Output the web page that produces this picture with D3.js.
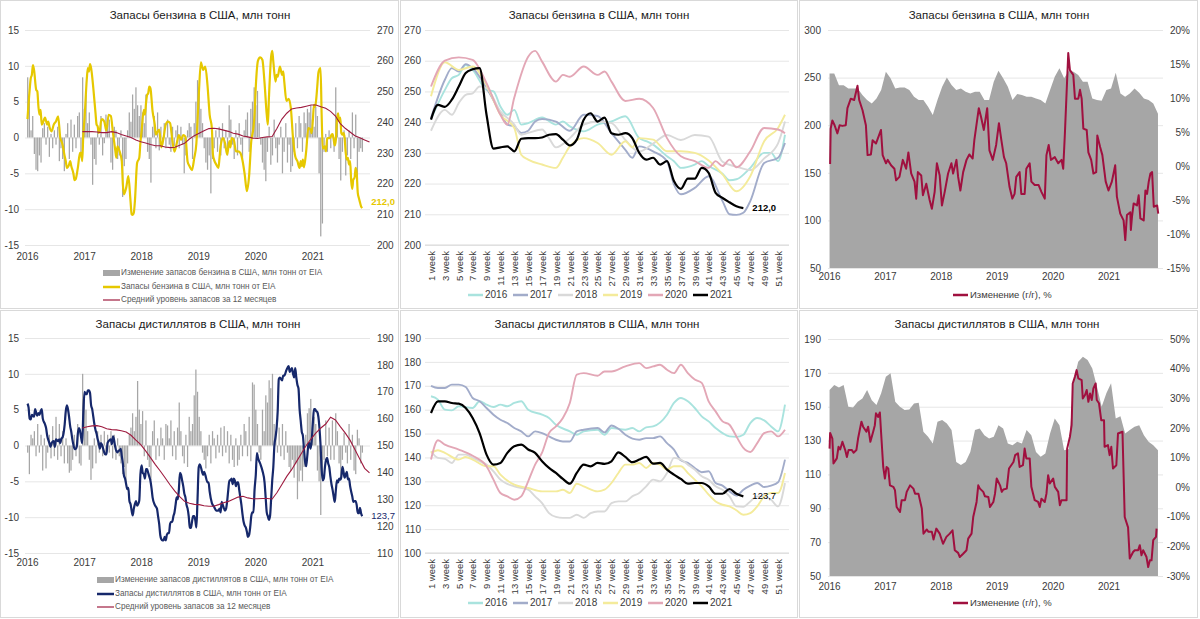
<!DOCTYPE html>
<html>
<head>
<meta charset="utf-8">
<script src="https://cdn.jsdelivr.net/npm/d3@7"></script>
<style>
  body { margin: 0; background: #fff; }
  svg { font-family: "Liberation Sans", Arial, sans-serif; }
  .axis path, .axis line { display: none; }
  .axis text { fill: #3a3a3a; font-size: 10px; font-family: "Liberation Sans", Arial, sans-serif; }
  .grid path { display: none; }
  .grid line { stroke: #e6e6e6; }
</style>
</head>
<body>
<svg id="chart" width="1200" height="619"></svg>
<script>
// ── Data ──────────────────────────────────────────────────────────────────────
const YEARS = [2016, 2017, 2018, 2019, 2020, 2021];
const YEAR_COLORS = ['#a9e3de', '#a2acca', '#d9d9d9', '#f4eb9b', '#e3a7b6', '#000000'];
const WEEK_TICKS = d3.range(1, 52, 2);

// gasoline stocks by week, [week, mln t]
const gas2016 = [[1,241],[3,250.5],[4,254.3],[5,255.4],[6,258.6],[7,257],[9,250.5],[10,250],[11,245.1],[12,242.4],[13,244],[14,239.2],[15,239.7],[17,241.5],[19,239.2],[20,240.2],[21,238.6],[23,237],[25,239.2],[27,240.2],[29,241.9],[31,234.8],[32,233.8],[33,232.7],[35,228.9],[36,227.3],[37,225.1],[39,226.2],[40,227.3],[41,225.7],[43,223.2],[44,221.1],[45,221.4],[47,225.1],[49,230],[50,230],[51,227.3],[52,235.9]];
const gas2017 = [[1,241.3],[3,253.8],[4,257.6],[5,256.5],[6,258.9],[7,257.6],[9,251.1],[11,243],[12,239.2],[13,238.6],[14,236.5],[15,237.2],[16,240.2],[17,241],[19,240.2],[21,237.2],[23,242.4],[25,242],[27,236.4],[29,231],[30,228.4],[31,232.1],[33,230.5],[35,227.3],[36,219.7],[37,216.5],[39,218.6],[41,222.4],[43,214.3],[44,210],[45,209.8],[46,210.5],[47,214.3],[49,226.7],[51,228.4],[52,233.2]];
const gas2018 = [[1,237.2],[3,244],[4,242.4],[5,246.2],[6,248.9],[7,249.4],[8,251.6],[9,251.1],[11,243.5],[13,239.2],[14,235.9],[15,236.5],[17,237.6],[18,234.8],[19,231.8],[21,234.8],[23,239.2],[25,240.2],[27,239.7],[29,234.2],[31,230.4],[33,233],[35,235.8],[37,234.2],[39,235.8],[41,235.3],[43,227.1],[45,225.5],[47,224.4],[49,228.2],[51,233.1],[52,240.2]];
const gas2019 = [[1,248.4],[3,259.5],[5,257],[7,258.1],[9,252.1],[11,242.4],[13,238.1],[14,229.4],[15,227.8],[17,226.2],[19,225.1],[20,228.4],[21,232.1],[23,234.8],[25,233.2],[27,229.4],[29,233.8],[30,231.8],[31,234.8],[33,234.3],[35,230.5],[37,230.5],[39,230],[41,227.5],[43,223],[45,217.5],[47,222.4],[49,233.8],[51,238.1],[52,242.4]];
const gas2020 = [[1,251.6],[3,260],[5,261.1],[7,260.3],[9,252.7],[11,242.4],[12,239.2],[13,248],[15,261.3],[16,263.2],[17,259.7],[19,253.2],[20,255.4],[21,254.8],[23,258.1],[25,255.4],[26,256.5],[27,253.2],[29,246.9],[31,247.6],[33,244.6],[35,234.8],[37,228.9],[39,227.3],[41,225.1],[42,227.3],[43,225.7],[44,227.8],[45,225.3],[47,230.5],[49,238.1],[51,237.6],[52,236.4]];
const gas2021w = [240.8,245.6,245,247.3,251.6,256,257.2,257.6,242.4,231.4,231.8,232.1,230.5,234.6,234.8,234.8,235,235.9,236.1,234.3,232.4,234.3,240.8,242.9,240.2,241.5,236.4,235.9,236.4,234.8,230,227.8,228.4,226.2,227.3,220.8,218.3,221.6,221.6,225.1,223.5,217,215.3,213.9,212.6,212.0];

// distillate stocks by week, [week, mln t]
const dist2016 = [[1,165.6],[2,164.2],[3,160],[4,159.7],[5,161.4],[7,160.7],[8,163.5],[9,162.1],[10,161.1],[11,162.1],[12,161.4],[13,162.8],[14,163.5],[15,160],[17,157.9],[18,156.5],[19,153.7],[21,150.9],[22,149.5],[23,150.9],[25,151.6],[26,149.5],[27,152.3],[29,151.6],[30,152.3],[31,150.9],[32,152.6],[33,153],[35,157.9],[36,162.8],[37,164.9],[38,163.5],[39,160.7],[40,157.2],[41,155.1],[42,152.3],[43,150.2],[44,148.8],[45,148.6],[46,149.5],[47,154.4],[48,156.5],[49,155.5],[50,153],[51,150.9],[52,162.1]];
const dist2017 = [[1,170],[2,169.1],[3,169.1],[4,170.5],[5,170.5],[6,169.5],[7,164.9],[8,163.5],[9,160.7],[10,157.9],[11,155.8],[12,154.4],[13,152.3],[14,150.9],[15,148.8],[16,150.9],[17,150.2],[18,148.8],[19,147.4],[20,146.7],[21,146.7],[22,150.9],[23,151.6],[25,152.3],[26,150.5],[27,153.4],[28,152],[29,149.5],[31,147.4],[32,148.1],[33,148.1],[34,148.8],[35,146],[36,143.3],[37,138.8],[38,137.7],[39,135.6],[40,133.8],[41,134.2],[42,129.3],[43,128.2],[44,125.8],[45,124],[46,126.5],[47,128.2],[48,129.3],[49,127.6],[50,128.2],[51,129.6],[52,139.1]];
const dist2018 = [[1,142.6],[2,139.8],[3,139.4],[4,137.7],[5,141.2],[6,141.2],[7,139.8],[8,138.4],[9,137],[10,134.2],[11,130.7],[13,127.9],[15,126.5],[16,123.7],[17,120.9],[18,116.7],[19,115.1],[20,114.7],[21,114.7],[22,116],[23,114.7],[24,116.7],[25,117.4],[26,117.4],[27,120.9],[28,121.6],[29,121.6],[30,123.7],[31,125.1],[32,127.9],[33,130.7],[34,130],[35,133.5],[36,139.8],[37,139.1],[38,137],[39,134.9],[40,132.1],[41,130.7],[42,127.9],[43,126.5],[44,123.7],[45,119.5],[46,119.3],[47,121.6],[48,123.7],[49,123.7],[50,122.3],[51,119.5],[52,129.3]];
const dist2019 = [[1,141.9],[2,143],[3,141.9],[5,139.1],[6,140.2],[7,139.1],[9,136.3],[10,136.3],[11,132.8],[13,128.6],[15,127.2],[17,125.8],[19,125.8],[20,126.5],[21,125.1],[22,129],[23,127.9],[25,125.8],[26,126.5],[27,129.3],[28,133.5],[29,137],[30,137],[31,137.7],[32,135.6],[33,137.7],[34,137],[35,134.9],[36,136.3],[37,136.3],[38,133.5],[39,130.7],[40,127.9],[41,124.4],[42,121.6],[43,120.2],[44,119.5],[45,117.9],[46,116],[47,116.7],[48,119.5],[49,123.7],[50,125.1],[51,125.1],[52,133.5]];
const dist2020 = [[1,139.1],[2,147.2],[3,145.4],[5,143.3],[7,140.7],[9,136.3],[10,130.7],[11,125.1],[12,123.7],[13,122.3],[14,123.7],[15,130],[16,137],[17,142],[18,150.2],[19,153],[20,156.5],[21,162.8],[22,174.7],[23,175.3],[25,174.2],[26,176],[27,176],[29,178.1],[31,179.5],[32,177.4],[33,178.1],[34,178.8],[35,176.7],[36,175.3],[37,178.8],[38,175.3],[39,172.6],[40,171.2],[41,163.5],[42,159.3],[43,155.1],[44,153.7],[45,148.8],[46,144],[47,142.3],[48,146],[49,150.2],[50,150.9],[51,148.8],[52,151.6]];
const dist2021w = [158.6,163.5,163.5,162.8,162.5,160.7,156.5,150.2,141.2,137,137.7,141.9,144.7,145.4,143.3,141.9,138.4,135.6,133.5,131,129,133.5,137,136.3,137.7,137.3,138.4,142.1,140.2,138,139.1,140.2,137.4,137.7,134.9,132.8,131,129,129.3,129.3,127.9,124.8,124.8,126.8,124.8,123.7];

// weekly stock change (left axis), Jan 2016 .. Nov 2021
const gasBars = [
  8.4,6,1,3,-2.3,-4.5,-4.7,-2.5,-3.5,1.3,2,-1,1.5,-2.7,0.5,-1.5,1,-1,1.5,-3.3,-1.5,-3,-4.7,0.5,2,-3,2.5,-2,1.8,-1.5,3,3.5,-2.8,
  8.4,4,6,2,3.5,-1,-6.6,-3,-3.8,1.5,-1,3,-2.5,-0.8,3.2,2,2.5,-3.5,-4.5,1.5,1,-3,-2.5,1,-8.3,-4,-3,1,3.5,2.2,6,4,7,4.5,
  3,4.5,3.5,2,6,-2,-3,-6.3,1.5,3,-1.5,3.5,-1.8,1.5,-1,2,-1.5,2.5,-1,-2,1.5,-1.2,1,1.7,-1.5,1.5,-1,-5,-2.5,1,2,1.5,-3,2,
  5,8,7,4,2,-1.5,-3.5,-4.5,-2.5,-7.8,-3,-1.5,1,-2,1.5,-2.5,2,-1.5,1,-2.5,4.5,2.5,-1,-3,1,-2.5,2,-1,-3,1,2.5,3.5,-2,4,
  5,7,4.5,6.5,2,-1,-3.5,-4.5,-6.1,-2,1.5,-3.8,-2.5,2.5,-1.5,-3.5,-1,1.5,-5,-2,2,-3.5,-1,-4.8,-4,-2,2,-1.5,3,2,-2,3.5,2,4,
  3.5,4.5,2.5,1.5,4.3,3,-5,-13.8,-12,-2,0.5,-2,1,-1.5,0.5,-2,7,2,-3,-6,-2,1,-5.3,-2.5,1,-3,3.5,-1.5,3.2,-5.8,-2,-1.5,-2
];
const distBars = [
  -1,-4,1.5,1,2,-1.5,3,-1,1.5,-3.5,1,-3.2,-1,1.5,-1.8,2.7,-1.5,4,-2,3,-1.5,2,-2.5,1,-2.5,-3.8,-3.5,-2,1.5,-1.5,3,-2.5,-2.8,
  10,6.5,5,2,-2,-4.8,-3.2,1,-2.5,2,-1,1.5,-1.5,2,-1,1.5,-1,2,-1.8,1.5,-2,1,-1.5,-2.5,-4,-3,-5.2,-2.5,1.5,2.5,4.5,2,4,9,
  5,3,4.8,-1.5,3.5,-2,-3,-4.8,2,3.5,-2,1,-1.5,2.5,1,-2,3,2.8,1,3.5,-1.5,2,-2,2.5,6,2,-1.5,-2.5,1.5,-3,4,2,3,7,
  10.6,7.5,4,2,-1,-2,-3.2,-1.5,1.5,-2.5,2,1,-1.8,1.5,-1,2.5,-1.5,2.7,-1,2,-2.5,1.5,-2,-3,1,-2.8,-2,1.5,-1.5,3,2,-1.5,4,-2.2,
  8.8,8.5,5,3,-1,-2,5,2,7,6,9.1,8,10,3,2,-1,2.5,-1.5,3,-2,2,-1,-3,-3.5,-2,-4.5,-2.5,-7.5,-5,-3.5,-5,-3,1.5,4.5,
  5.2,6.5,2.5,4,3,-3.5,-5,-9.7,-4,-2,3.5,-1.5,2.5,-2,3.5,-2,4.5,2,-2.5,-4.5,-2,1.8,-1,-2.5,3,-2,1.5,-3.5,-4,2.2,1,-2.5,-1
];

// 12-month average stock level (right axis), monthly Jan 2017 .. Dec 2021
const gasAvg = [
  236.9,236.9,236.9,236.8,236.6,236.6,236.9,236.6,236,235.5,235,234.2,
  233.6,233.2,232.7,232.3,232.3,231.9,231.7,231.8,232.5,233.1,234.5,235.6,
  236.4,237.2,237.9,238,237.8,237.4,237,236.4,236.1,235.5,235.2,234.8,
  234.7,235,235.2,235.3,238,241,242.9,244.3,244.6,244.8,245.2,245.6,
  245.6,245,244.5,243.5,242,239.5,238,236.8,235.6,234.9,234.2,233.5
];
const distAvg = [
  156.5,157,157.3,157.4,157,156.2,155.9,155.8,155.5,155,153.8,152,
  150.3,148,145.5,142.9,140.5,138,135.4,133,131,129.2,128.5,128.1,
  128,127.6,127.4,127.4,128,128.7,129.2,130,130.8,131.1,130.5,130.2,
  130.2,130.3,130.3,130.1,132.5,135.5,138.5,141,144,147,150,152.5,
  154.7,156.5,158,160.5,159.5,157,154.7,152,148.5,145,141.5,139.8
];

// stock level for the area charts, monthly Jan 2016 .. Nov 2021
const gasArea = [
  254.4,254.4,242,242,238.6,238.6,238.6,231.6,226.4,222.9,228,236.9,
  256.2,249.2,238.6,239.7,239.7,236.9,229.9,226.4,226.4,219.4,210.6,226.4,
  240.4,250.2,242.1,236.9,238.6,235.1,233.4,235.1,235.1,226.4,226.4,245.7,
  257.2,249.2,240.4,226.4,232.7,231.6,229.9,229.9,228.1,226.4,222.9,236.9,
  250.9,259.7,249.2,257.2,256.2,252.7,245.7,245.7,228.1,226.4,225.7,236.9,
  238.6,255.1,233.4,229.9,233.4,238.6,234,228.1,226.4,222.9,212
];
const distArea = [
  159.8,162.8,161.4,162.8,150,149.6,152.9,154.9,159.8,153.8,151,157.9,
  167.7,169.7,152.9,150,148,148.4,151.9,152.3,135.2,132.2,128.3,141.1,
  142.1,140.1,136.2,117.4,115.5,117.4,123.3,136.2,137.2,133.2,131.2,132.2,
  139.1,137.2,128.3,127.3,129.3,128.3,136.2,133.2,123.3,120.4,122.4,134.2,
  143.1,139.1,124.3,125,165,176.6,179.5,177.6,172.6,161.8,150,157.9,
  163.8,143.1,144.4,134.2,136.2,138.1,139.1,133.2,129.3,127.3,124.3
];

// year-on-year change, % : [years since Jan 2016, %]
const gasYoy = [[0.02,0.3],[0.03,5.5],[0.06,6.7],[0.10,6],[0.15,4.8],[0.19,6],[0.24,5.9],[0.30,6],[0.33,8.5],[0.39,9.9],[0.45,9.7],[0.51,11.8],[0.54,9.7],[0.60,8.2],[0.66,6],[0.69,1.6],[0.75,1.7],[0.78,3.8],[0.84,3.3],[0.93,5.3],[0.96,1.6],[1.02,0.4],[1.05,0.9],[1.11,0.1],[1.17,-0.4],[1.20,-2.1],[1.26,-1.6],[1.32,0.9],[1.38,-0.4],[1.42,2],[1.47,-1.1],[1.53,-2.3],[1.56,-4.8],[1.59,-0.9],[1.65,-1.4],[1.68,-4.3],[1.74,-2.6],[1.80,-5],[1.84,-6.3],[1.89,-3.8],[1.93,0.4],[1.98,-1.4],[2.02,-5.8],[2.07,-3.8],[2.13,-1.1],[2.19,0.4],[2.22,-1.1],[2.28,0.9],[2.31,-1.6],[2.35,-3.6],[2.40,-0.9],[2.46,0.9],[2.51,1.7],[2.57,1.1],[2.60,3.8],[2.68,8.5],[2.72,7.2],[2.77,5.3],[2.83,8.5],[2.87,2.3],[2.93,0.9],[2.99,3.1],[3.04,6.3],[3.08,4],[3.13,1.3],[3.17,0.4],[3.23,-3.1],[3.28,-4.8],[3.32,-4.1],[3.35,-1.6],[3.41,-0.9],[3.44,-4.1],[3.50,-4.1],[3.53,-0.4],[3.59,0.4],[3.62,-2.3],[3.68,-2.8],[3.75,-2.8],[3.80,-3.8],[3.86,-4.8],[3.89,1.6],[3.93,3.1],[3.97,0.9],[4.04,1.3],[4.10,0.4],[4.16,0.9],[4.19,-0.4],[4.22,4.8],[4.28,16.6],[4.31,14.1],[4.37,13.4],[4.40,9.9],[4.46,9.9],[4.49,11.2],[4.52,9.9],[4.55,5.5],[4.61,5.3],[4.64,2],[4.69,0.9],[4.73,-1.1],[4.78,-0.9],[4.80,4.5],[4.85,2.8],[4.89,1.6],[4.95,-2.3],[5.00,-3.6],[5.06,-2.3],[5.12,0.1],[5.15,-4.5],[5.21,-7],[5.27,-8],[5.30,-10.9],[5.33,-7.2],[5.39,-6.8],[5.40,-9.4],[5.42,-7.5],[5.45,-5.5],[5.51,-5.8],[5.54,-4.3],[5.57,-7.7],[5.63,-8],[5.66,-3.6],[5.69,-4.1],[5.72,-2.3],[5.75,-1.1],[5.78,-0.9],[5.81,-6],[5.87,-5.8],[5.89,-7]];
const distYoy = [[0.01,13],[0.02,18.3],[0.06,16.4],[0.08,8],[0.14,9.7],[0.17,13.6],[0.20,12.7],[0.24,15.3],[0.29,12.5],[0.32,10.2],[0.35,12.5],[0.41,12.5],[0.44,11.6],[0.49,12.5],[0.52,16.4],[0.58,22.1],[0.61,20.4],[0.67,18.7],[0.70,20.4],[0.74,15.3],[0.79,18.7],[0.82,20.9],[0.84,24.9],[0.88,23.7],[0.91,25.2],[0.94,15.9],[0.97,6.8],[1.00,2.9],[1.03,6.8],[1.06,6.3],[1.09,0.6],[1.15,0.1],[1.18,-1],[1.21,-6.7],[1.27,-8.4],[1.30,-4.4],[1.36,-4.4],[1.39,-1.6],[1.45,0.6],[1.51,-0.5],[1.54,-2.2],[1.60,-2.2],[1.66,-7.2],[1.69,-15.7],[1.75,-14.3],[1.78,-15.1],[1.84,-15.1],[1.87,-17.7],[1.92,-14],[1.98,-15.7],[2.04,-19.1],[2.10,-16.8],[2.16,-15.7],[2.21,-14.6],[2.25,-21.3],[2.31,-22.2],[2.34,-23.6],[2.40,-22.5],[2.46,-21.3],[2.49,-17.4],[2.55,-15.7],[2.58,-10.1],[2.64,-5],[2.67,0.6],[2.70,-0.5],[2.76,-1.6],[2.79,-3.1],[2.85,-3.3],[2.88,-6.7],[2.94,-5],[2.97,-2.2],[3.00,2.9],[3.06,0.6],[3.09,-1.6],[3.12,-0.8],[3.18,-0.5],[3.22,6.3],[3.30,8.5],[3.33,10.8],[3.38,11.4],[3.41,6.8],[3.47,7.4],[3.50,13],[3.53,9.7],[3.59,9.7],[3.62,0.1],[3.68,-4.4],[3.74,-5],[3.77,-6.7],[3.80,-3.9],[3.86,-5],[3.89,-2.2],[3.92,4],[3.95,1.2],[4.01,2.9],[4.04,0.1],[4.10,-1.6],[4.13,-6.1],[4.16,-4.4],[4.25,-4.4],[4.26,13],[4.31,17],[4.34,20.9],[4.36,35],[4.40,37.3],[4.43,39.5],[4.46,36.7],[4.52,36.1],[4.54,29.9],[4.58,31.1],[4.61,32.8],[4.64,28.8],[4.67,31.6],[4.70,29.4],[4.73,33.3],[4.77,35],[4.79,29.4],[4.83,28.3],[4.87,22.6],[4.92,22.6],[4.93,13.6],[4.99,14.2],[5.02,10.8],[5.05,13.6],[5.08,6.3],[5.14,7.4],[5.17,18.1],[5.25,18.7],[5.29,-10.1],[5.35,-13.6],[5.38,-24.1],[5.44,-21.9],[5.47,-21.3],[5.53,-21.3],[5.56,-19.6],[5.59,-23],[5.62,-21.3],[5.68,-23.6],[5.71,-27],[5.74,-24.7],[5.77,-24.7],[5.80,-17.9],[5.85,-16.8],[5.86,-14]];

const GAS_TITLE = 'Запасы бензина в США, млн тонн';
const DIST_TITLE = 'Запасы дистиллятов в США, млн тонн';

// ── Helpers ──────────────────────────────────────────────────────────────────
const svg = d3.select('#chart');
const toPairs = (arr) => arr.map((v, i) => [i + 1, v]);
const spread = (vals, t0, t1) => vals.map((v, i) => [t0 + i * (t1 - t0) / (vals.length - 1), v]);
const weekT = (year, w) => (year - 2016) + ((w - 1) * 7 + 3) / 365;
const fmtComma = d3.format('.1f');
const comma = v => fmtComma(v).replace('.', ',');

const gasSeason = [gas2016, gas2017, gas2018, gas2019, gas2020, toPairs(gas2021w)];
const distSeason = [dist2016, dist2017, dist2018, dist2019, dist2020, toPairs(dist2021w)];

function frame(x, y, w, h) {
  svg.append('rect').attr('x', x).attr('y', y).attr('width', w).attr('height', h)
    .attr('fill', 'none').attr('stroke', '#d9d9d9').attr('stroke-width', 1);
}
function title(text, cx, y) {
  svg.append('text').attr('x', cx).attr('y', y).attr('text-anchor', 'middle')
    .attr('font-size', 11.5).attr('fill', '#1a1a1a').text(text);
}
function grid(scale, ticks, x0, x1) {
  svg.append('g').attr('class', 'grid').attr('transform', `translate(${x0},0)`)
    .call(d3.axisLeft(scale).tickValues(ticks).tickSize(-(x1 - x0)).tickFormat(''));
}
function leftAxis(scale, ticks, x, pad, fmt) {
  svg.append('g').attr('class', 'axis').attr('transform', `translate(${x},0)`)
    .call(d3.axisLeft(scale).tickValues(ticks).tickSize(0).tickPadding(pad).tickFormat(fmt || (d => d)));
}
function rightAxis(scale, ticks, x, pad, fmt) {
  svg.append('g').attr('class', 'axis').attr('transform', `translate(${x},0)`)
    .call(d3.axisRight(scale).tickValues(ticks).tickSize(0).tickPadding(pad).tickFormat(fmt || (d => d)));
}
function yearAxis(scale, y, pad) {
  svg.append('g').attr('class', 'axis').attr('transform', `translate(0,${y})`)
    .call(d3.axisBottom(scale).tickValues(d3.range(0, 6)).tickSize(0).tickPadding(pad)
      .tickFormat(d => 2016 + d));
}

// ── Left panels: weekly change bars + stock line + 12m average ───────────────
function stockPanel(o) {
  title(o.title, o.titleX, o.titleY);
  const x = d3.scaleLinear([0, 6], [27, 369.5]);
  const yL = d3.scaleLinear([-15, 15], [o.yb, o.yt]);
  const yR = d3.scaleLinear(o.rDomain, [o.yb, o.yt]);

  grid(yL, d3.range(-15, 16, 5), 25, 370);
  leftAxis(yL, d3.range(-15, 16, 5), 27, 8);
  rightAxis(yR, d3.range(o.rDomain[0], o.rDomain[1] + 1, 10), 370, 7);
  yearAxis(x, o.yb, o.xPad);

  const bars = spread(o.bars, 0.012, 5.875);
  svg.append('g').selectAll('rect').data(bars).join('rect')
    .attr('x', d => x(d[0]) - 0.6)
    .attr('width', 1.25)
    .attr('y', d => Math.min(yL(0), yL(d[1])))
    .attr('height', d => Math.abs(yL(d[1]) - yL(0)))
    .attr('fill', '#a6a6a6');

  const stock = o.season.flatMap((yr, i) => yr.map(p => [weekT(YEARS[i], p[0]), p[1]]));
  svg.append('path').datum(stock)
    .attr('fill', 'none').attr('stroke', o.color).attr('stroke-width', 2.2)
    .attr('d', d3.line().x(d => x(d[0])).y(d => yR(d[1])).curve(d3.curveMonotoneX));

  const avg = spread(o.avg, 0.97, 6.0);
  svg.append('path').datum(avg)
    .attr('fill', 'none').attr('stroke', '#9e1b3f').attr('stroke-width', 1.1)
    .attr('d', d3.line().x(d => x(d[0])).y(d => yR(d[1])));

  // end-value label, nudged up so it clears the right-axis tick text
  const last = stock[stock.length - 1];
  svg.append('text').attr('x', x(last[0]) + 9).attr('y', yR(last[1]) - o.labelLift)
    .attr('dominant-baseline', 'middle').attr('font-size', 9.5)
    .attr('font-weight', o.labelBold ? 700 : 400)
    .attr('fill', o.color).text(comma(last[1]));

  // legend
  const lg = svg.append('g').attr('font-size', 8.2).attr('fill', '#595959');
  lg.append('rect').attr('x', o.lgX).attr('y', o.lgY[0] - 3).attr('width', 17).attr('height', 6).attr('fill', '#a6a6a6');
  lg.append('line').attr('x1', o.lgX).attr('x2', o.lgX + 17).attr('y1', o.lgY[1]).attr('y2', o.lgY[1])
    .attr('stroke', o.color).attr('stroke-width', 2.5);
  lg.append('line').attr('x1', o.lgX).attr('x2', o.lgX + 17).attr('y1', o.lgY[2]).attr('y2', o.lgY[2])
    .attr('stroke', '#9e1b3f').attr('stroke-width', 1.2);
  o.legend.forEach((t, i) => lg.append('text').attr('x', o.lgX + 18).attr('y', o.lgY[i])
    .attr('dominant-baseline', 'middle').text(t));
}

// ── Middle panels: seasonal lines by week ────────────────────────────────────
function seasonPanel(o) {
  title(o.title, o.titleX, o.titleY);
  const x = d3.scalePoint(d3.range(1, 53), [431, 785]);
  const y = d3.scaleLinear(o.domain, [o.yb, o.yt]);
  const ticks = d3.range(o.domain[0], o.domain[1] + 1, 10);

  grid(y, ticks, 425, 789);
  svg.append('line').attr('x1', 425).attr('x2', 789).attr('y1', o.yb).attr('y2', o.yb).attr('stroke', '#d9d9d9');
  leftAxis(y, ticks, 425, 4);

  const xa = svg.append('g').attr('class', 'axis').attr('transform', `translate(0,${o.yb})`)
    .call(d3.axisBottom(x).tickValues(WEEK_TICKS).tickSize(0).tickFormat(d => d + ' week'));
  xa.selectAll('text').attr('transform', 'rotate(-90)').attr('x', -6).attr('y', 0)
    .attr('dy', '0.35em').attr('text-anchor', 'end').style('font-size', '9.5px');

  const line = d3.line().x(d => x(d[0])).y(d => y(d[1])).curve(d3.curveMonotoneX);
  o.season.forEach((yr, i) => {
    svg.append('path').datum(yr).attr('fill', 'none')
      .attr('stroke', YEAR_COLORS[i]).attr('stroke-width', i === 5 ? 2.2 : 1.9)
      .attr('d', line);
  });
  const last = o.season[5][o.season[5].length - 1];
  svg.append('text').attr('x', x(last[0]) + 9).attr('y', y(last[1]))
    .attr('dominant-baseline', 'middle').attr('font-size', 9.5)
    .attr('font-weight', o.labelBold ? 700 : 400).attr('fill', '#000').text(comma(last[1]));

  const lg = svg.append('g').attr('font-size', 10).attr('fill', '#3a3a3a');
  YEARS.forEach((yr, i) => {
    const lx = 468 + i * 45;
    lg.append('line').attr('x1', lx).attr('x2', lx + 15).attr('y1', o.lgY).attr('y2', o.lgY)
      .attr('stroke', YEAR_COLORS[i]).attr('stroke-width', 2.5);
    lg.append('text').attr('x', lx + 17).attr('y', o.lgY).attr('dominant-baseline', 'middle').text(yr);
  });
}

// ── Right panels: stock area + y/y change ─────────────────────────────────────
function yoyPanel(o) {
  title(o.title, o.titleX, o.titleY);
  const x = d3.scaleLinear([0, 6], [829, 1164.4]);
  const yA = d3.scaleLinear(o.aDomain, [o.yb, o.yt]);
  const yP = d3.scaleLinear(o.pDomain, [o.yb, o.yt]);
  const aTicks = d3.range(o.aDomain[0], o.aDomain[1] + 1, o.aStep);

  grid(yA, aTicks, 828, 1163);
  leftAxis(yA, aTicks, 828, 7);
  const ra = svg.append('g').attr('class', 'axis').attr('transform', `translate(1163,0)`)
    .call(d3.axisRight(yP).tickValues(d3.range(o.pDomain[0], o.pDomain[1] + 1, o.pStep))
      .tickSize(0).tickFormat(d => d + '%'));
  ra.selectAll('text').attr('x', 27).attr('text-anchor', 'end');
  yearAxis(x, o.yb, o.xPad);

  const area = spread(o.area, 0.01, 5.885);
  svg.append('path').datum(area).attr('fill', '#a6a6a6')
    .attr('d', d3.area().x(d => x(d[0])).y0(yA(o.aDomain[0])).y1(d => yA(d[1])));

  svg.append('path').datum(o.yoy).attr('fill', 'none')
    .attr('stroke', '#a0103f').attr('stroke-width', 2).attr('stroke-linejoin', 'round')
    .attr('d', d3.line().x(d => x(d[0])).y(d => yP(d[1])));

  svg.append('line').attr('x1', 953).attr('x2', 968).attr('y1', o.lgY).attr('y2', o.lgY)
    .attr('stroke', '#a0103f').attr('stroke-width', 2.5);
  svg.append('text').attr('x', 970).attr('y', o.lgY).attr('dominant-baseline', 'middle')
    .attr('font-size', 9.5).attr('fill', '#3a3a3a').text('Изменение (г/г), %');
}

// ── Layout ───────────────────────────────────────────────────────────────────
frame(0.5, 0.5, 398, 308); frame(400.5, 0.5, 397, 308); frame(799.5, 0.5, 398, 308);
frame(0.5, 310.5, 398, 307); frame(400.5, 310.5, 397, 307); frame(799.5, 310.5, 398, 307);

stockPanel({
  title: GAS_TITLE, titleX: 200, titleY: 19, yt: 30, yb: 245, xPad: 8,
  rDomain: [200, 270], bars: gasBars, avg: gasAvg, season: gasSeason,
  color: '#e6c800', labelBold: true, labelLift: 6, lgX: 103, lgY: [273, 287, 300],
  legend: ['Изменение запасов бензина в США, млн тонн от EIA',
           'Запасы бензина в США, млн тонн от EIA',
           'Средний уровень запасов за 12 месяцев']
});
stockPanel({
  title: DIST_TITLE, titleX: 198, titleY: 328, yt: 338, yb: 553, xPad: 6,
  rDomain: [110, 190], bars: distBars, avg: distAvg, season: distSeason,
  color: '#16286b', labelBold: false, labelLift: 0, lgX: 97, lgY: [580, 594, 607],
  legend: ['Изменение запасов дистиллятов в США, млн тонн от EIA',
           'Запасы дистиллятов в США, млн тонн от EIA',
           'Средний уровень запасов за 12 месяцев']
});
seasonPanel({ title: GAS_TITLE, titleX: 599, titleY: 19, yt: 30, yb: 245,
  domain: [200, 270], season: gasSeason, labelBold: true, lgY: 295 });
seasonPanel({ title: DIST_TITLE, titleX: 597, titleY: 328, yt: 338, yb: 553,
  domain: [100, 190], season: distSeason, labelBold: false, lgY: 603 });
yoyPanel({ title: GAS_TITLE, titleX: 999, titleY: 19, yt: 30, yb: 268, xPad: 5,
  aDomain: [50, 300], aStep: 50, pDomain: [-15, 20], pStep: 5,
  area: gasArea, yoy: gasYoy, lgY: 295 });
yoyPanel({ title: DIST_TITLE, titleX: 997, titleY: 328, yt: 339, yb: 576, xPad: 7,
  aDomain: [50, 190], aStep: 20, pDomain: [-30, 50], pStep: 10,
  area: distArea, yoy: distYoy, lgY: 603 });
</script>
</body>
</html>
